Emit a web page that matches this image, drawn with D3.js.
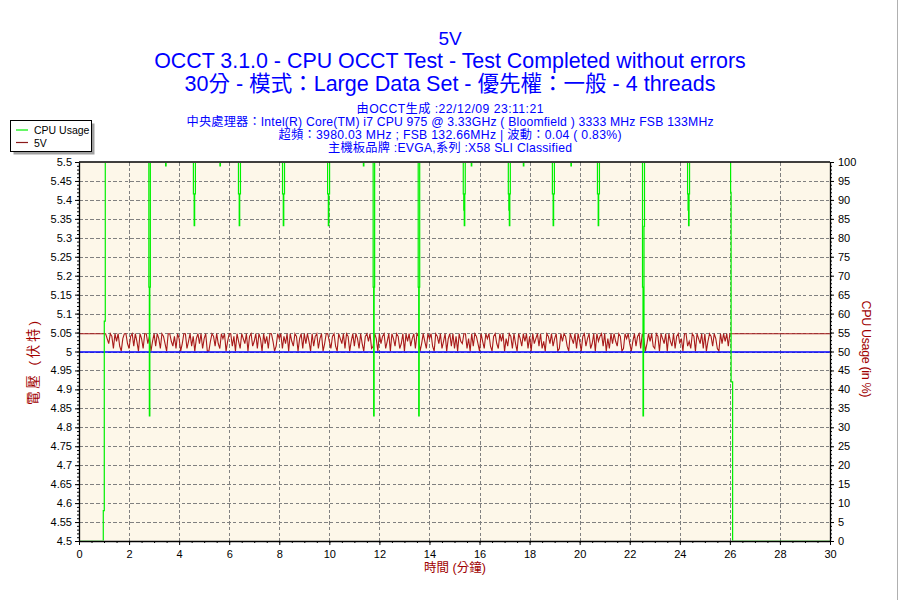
<!DOCTYPE html>
<html><head><meta charset="utf-8">
<script src="https://cdn.jsdelivr.net/npm/d3@7"></script>
<style>body{margin:0;background:#fff}svg{display:block}</style>
</head><body><svg id="c" width="900" height="600"></svg>
<script>
// ---------------- DATA ----------------
const titleLines = ["5V", "OCCT 3.1.0 - CPU OCCT Test - Test Completed without errors", "30分 - 模式：Large Data Set - 優先權：一般 - 4 threads"];
const infoLines = ["由OCCT生成 :22/12/09 23:11:21",
  "中央處理器：Intel(R) Core(TM) i7 CPU 975 @ 3.33GHz ( Bloomfield ) 3333 MHz FSB 133MHz",
  "超頻：3980.03 MHz ; FSB 132.66MHz | 波動：0.04 ( 0.83%)",
  "主機板品牌 :EVGA,系列 :X58 SLI Classified"];
const seriesNames = ["CPU Usage", "5V"];
const xTitle = "時間 (分鐘)", yLeftTitle = "電壓 (伏特)", yRightTitle = "CPU Usage (in %)";
const timeTicks = [0,2,4,6,8,10,12,14,16,18,20,22,24,26,28,30];
const voltTicks = [4.5,4.55,4.6,4.65,4.7,4.75,4.8,4.85,4.9,4.95,5,5.05,5.1,5.15,5.2,5.25,5.3,5.35,5.4,5.45,5.5];
const voltTickLabels = ["4.5","4.55","4.6","4.65","4.7","4.75","4.8","4.85","4.9","4.95","5","5.05","5.1","5.15","5.2","5.25","5.3","5.35","5.4","5.45","5.5"];
const cpuTicks = [0,5,10,15,20,25,30,35,40,45,50,55,60,65,70,75,80,85,90,95,100];
const nominalVoltage = 5.0;
const voltIdle = 5.047;           // value before start (t=0) and after end (t=30)
const voltSampleStart = 1.0, voltSampleStep = 0.0625; // minutes
const voltSamples = [
5.047,5.047,5.034,5.021,5.047,5.040,5.008,5.047,5.027,5.047,5.014,5.001,5.034,5.047,5.047,5.021,5.008,5.040,5.047,5.014,
5.047,5.027,5.001,5.047,5.034,5.008,5.047,5.047,5.021,5.040,5.001,5.027,5.047,5.014,5.047,5.034,5.008,5.047,5.040,5.021,
5.001,5.047,5.047,5.027,5.014,5.040,5.008,5.047,5.034,5.001,5.021,5.047,5.047,5.008,5.027,5.047,5.014,5.040,5.001,5.034,
5.047,5.021,5.047,5.008,5.034,5.047,5.001,5.001,5.027,5.047,5.040,5.014,5.047,5.021,5.008,5.047,5.034,5.047,5.001,5.027,
5.047,5.047,5.014,5.040,5.001,5.047,5.027,5.008,5.047,5.034,5.021,5.047,5.001,5.040,5.047,5.014,5.027,5.047,5.008,5.047,
5.034,5.001,5.047,5.021,5.040,5.008,5.047,5.047,5.027,5.001,5.014,5.047,5.034,5.047,5.008,5.040,5.021,5.047,5.001,5.047,
5.027,5.014,5.047,5.040,5.001,5.034,5.047,5.008,5.047,5.021,5.047,5.027,5.001,5.047,5.014,5.040,5.047,5.008,5.034,5.047,
5.001,5.021,5.047,5.047,5.027,5.008,5.040,5.047,5.014,5.001,5.047,5.034,5.021,5.047,5.008,5.047,5.040,5.001,5.027,5.047,
5.014,5.047,5.034,5.008,5.047,5.021,5.001,5.040,5.047,5.027,5.047,5.008,5.014,5.047,5.034,5.001,5.047,5.021,5.040,5.047,
5.008,5.027,5.047,5.001,5.047,5.034,5.014,5.047,5.040,5.008,5.021,5.047,5.001,5.047,5.027,5.047,5.014,5.034,5.047,5.008,
5.047,5.040,5.001,5.021,5.047,5.027,5.008,5.047,5.034,5.047,5.014,5.001,5.047,5.040,5.021,5.047,5.008,5.027,5.047,5.001,
5.034,5.047,5.014,5.047,5.008,5.040,5.001,5.047,5.027,5.021,5.047,5.047,5.008,5.034,5.001,5.047,5.014,5.047,5.040,5.021,
5.001,5.047,5.027,5.008,5.047,5.034,5.047,5.014,5.001,5.040,5.047,5.021,5.008,5.047,5.027,5.047,5.001,5.034,5.014,5.047,
5.040,5.008,5.047,5.021,5.001,5.047,5.034,5.014,5.047,5.027,5.047,5.008,5.040,5.001,5.047,5.021,5.034,5.047,5.014,5.047,
5.008,5.027,5.001,5.047,5.040,5.021,5.047,5.014,5.034,5.047,5.001,5.008,5.047,5.027,5.047,5.040,5.014,5.001,5.047,5.034,
5.021,5.047,5.008,5.047,5.027,5.001,5.040,5.047,5.014,5.034,5.047,5.008,5.021,5.047,5.001,5.047,5.027,5.040,5.047,5.014,
5.047,5.001,5.034,5.008,5.047,5.021,5.047,5.027,5.014,5.047,5.040,5.001,5.008,5.047,5.034,5.047,5.021,5.001,5.027,5.047,
5.014,5.040,5.047,5.008,5.047,5.034,5.001,5.021,5.047,5.027,5.047,5.014,5.008,5.047,5.040,5.001,5.047,5.034,5.021,5.047,
5.001,5.047,5.027,5.014,5.047,5.008,5.040,5.047,5.021,5.034,5.001,5.047,5.047,5.014,5.027,5.008,5.047,5.040,5.001,5.047,
5.034,5.021,5.047,5.008,5.047,5.001,5.027,5.047,5.040,5.014,5.047,5.034,5.008,5.001,5.047,5.021,5.047,5.027,5.047,5.014,
5.047];
const cpuTimes = [0,0.97,1.01,1.05,
 2.79,2.81,2.83,2.85, 3.46,3.48,
 4.57,4.60,4.62,4.65, 5.63,5.65,
 6.37,6.40,6.42,6.45, 8.13,8.16,8.18,8.21, 9.93,9.96,9.98,10.01,
 11.36,11.38, 11.75,11.77,11.79,11.81, 13.55,13.57,13.59,13.61,
 15.35,15.37,15.39,15.41,15.43, 15.67,15.69,
 17.15,17.17,17.19,17.21,17.23, 17.75,17.77,
 18.91,18.94,18.96,18.99, 19.65,19.67, 20.71,20.74,20.76,20.79,
 22.51,22.53,22.55,22.57,22.59, 24.31,24.33,24.35,24.37,24.39,
 26.03,26.05,26.11,30];
const cpuValues = [0,8,58,100,
 67,33,67,100, 99,100,
 91.6,83.2,91.6,100, 99,100,
 91.6,83.2,91.6,100, 91.6,83.2,91.6,100, 91.6,83.2,91.6,100,
 99,100, 67,33,67,100, 67,33,67,100,
 91.6,87.3,83.2,91.6,100, 99,100,
 91.6,87.3,83.2,91.6,100, 99,100,
 91.6,83.2,91.6,100, 99,100, 91.6,83.2,91.6,100,
 67,33,50,83,100, 91.6,87.3,83.2,91.6,100,
 92,42,0,0];

// ---------------- STYLE / LAYOUT ----------------
const FONT = "'Liberation Sans', Arial, 'Noto Sans CJK TC', sans-serif";
const plot = {l:79, r:830, t:162, b:541};
const colCPU = "#00f000", colV = "#a81a1a", colNom = "#0000ff", colTitle = "#0000ff", colAxisTitle = "#a00000";

const svg = d3.select("#c");
svg.append("rect").attr("width",900).attr("height",600).attr("fill","#fff");

const x = d3.scaleLinear().domain([0,30]).range([plot.l, plot.r]);
const yV = d3.scaleLinear().domain([4.5,5.5]).range([plot.b, plot.t]);
const yC = d3.scaleLinear().domain([0,100]).range([plot.b, plot.t]);

function fit(sel, target){
  const w = sel.node().getComputedTextLength();
  const fs = parseFloat(sel.attr("font-size"));
  sel.attr("font-size", (fs*target/w).toFixed(2));
}

// titles
const titleY = [45, 68, 91], titleW = [null, 592, 531], titleFS = [19, 19, 19];
titleLines.forEach((t,i)=>{
  const s = svg.append("text").attr("x",450).attr("y",titleY[i]).attr("text-anchor","middle")
    .attr("font-family",FONT).attr("font-size",titleFS[i]).attr("fill",colTitle).text(t);
  if (titleW[i]) fit(s, titleW[i]);
});
const infoY = [113, 126, 139, 152], infoW = [187, 527, 343, 244];
infoLines.forEach((t,i)=>{
  svg.append("text").attr("x",450).attr("y",infoY[i]).attr("text-anchor","middle")
    .attr("font-family",FONT).attr("font-size",12.2).attr("fill",colTitle)
    .attr("textLength",infoW[i]).attr("lengthAdjust","spacing").text(t);
});

// plot background
svg.append("rect").attr("x",plot.l).attr("y",plot.t).attr("width",plot.r-plot.l).attr("height",plot.b-plot.t).attr("fill","#fdf7e9");

// grid
const grid = svg.append("g").attr("stroke","#808080").attr("stroke-width",1).attr("stroke-dasharray","3.5,2.2").attr("shape-rendering","crispEdges");
grid.selectAll("line.h").data(voltTicks.filter(v=>v>4.5&&v<5.5)).enter().append("line")
  .attr("x1",plot.l).attr("x2",plot.r).attr("y1",d=>Math.round(yV(d))+0.5).attr("y2",d=>Math.round(yV(d))+0.5);
grid.selectAll("line.v").data(timeTicks.filter(v=>v>0&&v<30)).enter().append("line")
  .attr("y1",plot.t).attr("y2",plot.b).attr("x1",d=>Math.round(x(d))+0.5).attr("x2",d=>Math.round(x(d))+0.5);

// clip
svg.append("clipPath").attr("id","pc").append("rect").attr("x",plot.l).attr("y",plot.t+1).attr("width",plot.r-plot.l).attr("height",plot.b-plot.t-1.5);

// voltage series
const voltPts = [{t:0,v:voltIdle}].concat(voltSamples.map((v,i)=>({t:voltSampleStart+i*voltSampleStep, v}))).concat([{t:30,v:voltIdle}]);
svg.append("path").datum(voltPts).attr("fill","none").attr("stroke",colV).attr("stroke-width",1.1)
  .attr("d", d3.line().x(d=>x(d.t)).y(d=>yV(d.v)));

// nominal
svg.append("line").attr("x1",x(0)).attr("x2",x(30)).attr("y1",yV(nominalVoltage)+0.4).attr("y2",yV(nominalVoltage)+0.4)
  .attr("stroke",colNom).attr("stroke-width",1.5);

// cpu series
const cpuPts = cpuTimes.map((t,i)=>({t, v:cpuValues[i]}));
svg.append("path").datum(cpuPts).attr("clip-path","url(#pc)").attr("fill","none").attr("stroke",colCPU).attr("stroke-width",1.2)
  .attr("d", d3.line().curve(d3.curveStepAfter).x(d=>x(d.t)).y(d=>yC(d.v)));

// axes
const axStyle = g => { g.selectAll("text").attr("font-family",FONT).attr("font-size",11).attr("fill","#000");
  g.selectAll("line,path").attr("stroke","#000"); g.select(".domain").attr("stroke-width",1.3); };
const leftMinor = d3.range(450,551).map(v=>v/100);
svg.append("g").attr("transform",`translate(${plot.l},0)`).call(d3.axisLeft(yV).tickValues(leftMinor).tickSize(2).tickFormat("")).call(g=>{g.select(".domain").remove(); g.selectAll("line").attr("stroke","#000");});
svg.append("g").attr("transform",`translate(${plot.l},0)`)
  .call(d3.axisLeft(yV).tickValues(voltTicks).tickSize(4).tickSizeOuter(0).tickPadding(3).tickFormat((d,i)=>voltTickLabels[i])).call(axStyle);

const rightMinor = d3.range(0,101);
svg.append("g").attr("transform",`translate(${plot.r},0)`).call(d3.axisRight(yC).tickValues(rightMinor).tickSize(2).tickFormat("")).call(g=>{g.select(".domain").remove(); g.selectAll("line").attr("stroke","#000");});
svg.append("g").attr("transform",`translate(${plot.r},0)`)
  .call(d3.axisRight(yC).tickValues(cpuTicks).tickSize(4).tickSizeOuter(0).tickPadding(4)).call(axStyle);

const botMinor = d3.range(0,61).map(v=>v/2);
svg.append("g").attr("transform",`translate(0,${plot.b})`).call(d3.axisBottom(x).tickValues(botMinor).tickSize(2).tickFormat("")).call(g=>{g.select(".domain").remove(); g.selectAll("line").attr("stroke","#000");});
svg.append("g").attr("transform",`translate(0,${plot.b})`)
  .call(d3.axisBottom(x).tickValues(timeTicks).tickSize(4).tickSizeOuter(0).tickPadding(5)).call(axStyle);

// top frame
svg.append("line").attr("x1",plot.l).attr("x2",plot.r).attr("y1",plot.t).attr("y2",plot.t).attr("stroke","#000").attr("stroke-width",1.3);

// axis titles
svg.append("text").attr("x",455).attr("y",571.5).attr("text-anchor","middle").attr("font-family",FONT)
  .attr("font-size",12.5).attr("fill",colAxisTitle).text(xTitle);
svg.append("text").attr("transform","translate(38,363) rotate(-90)").attr("text-anchor","middle").attr("font-family",FONT)
  .attr("font-size",13.5).attr("fill",colAxisTitle).attr("textLength",84).attr("lengthAdjust","spacing").text(yLeftTitle);
svg.append("text").attr("transform","translate(862,349) rotate(90)").attr("text-anchor","middle").attr("font-family",FONT)
  .attr("font-size",12.5).attr("fill",colAxisTitle).attr("textLength",97).attr("lengthAdjust","spacing").text(yRightTitle);

// legend
const lg = svg.append("g");
lg.append("rect").attr("x",13.5).attr("y",123.5).attr("width",81).attr("height",31).attr("fill","#a0a0a0");
lg.append("rect").attr("x",10.5).attr("y",120.5).attr("width",81).attr("height",31).attr("fill","#fff").attr("stroke","#000").attr("stroke-width",1);
const legCols = [colCPU, "#8b1a1a"], legY = [130, 142.5];
seriesNames.forEach((n,i)=>{
  lg.append("line").attr("x1",16).attr("x2",28).attr("y1",legY[i]).attr("y2",legY[i]).attr("stroke",legCols[i]).attr("stroke-width",1.2);
  lg.append("text").attr("x",34).attr("y",legY[i]+4).attr("font-family",FONT).attr("font-size",10.5).attr("fill","#000").text(n);
});

// right page edge line
svg.append("line").attr("x1",897.5).attr("x2",897.5).attr("y1",0).attr("y2",600).attr("stroke","#b0b0b0");
</script>
</body></html>
